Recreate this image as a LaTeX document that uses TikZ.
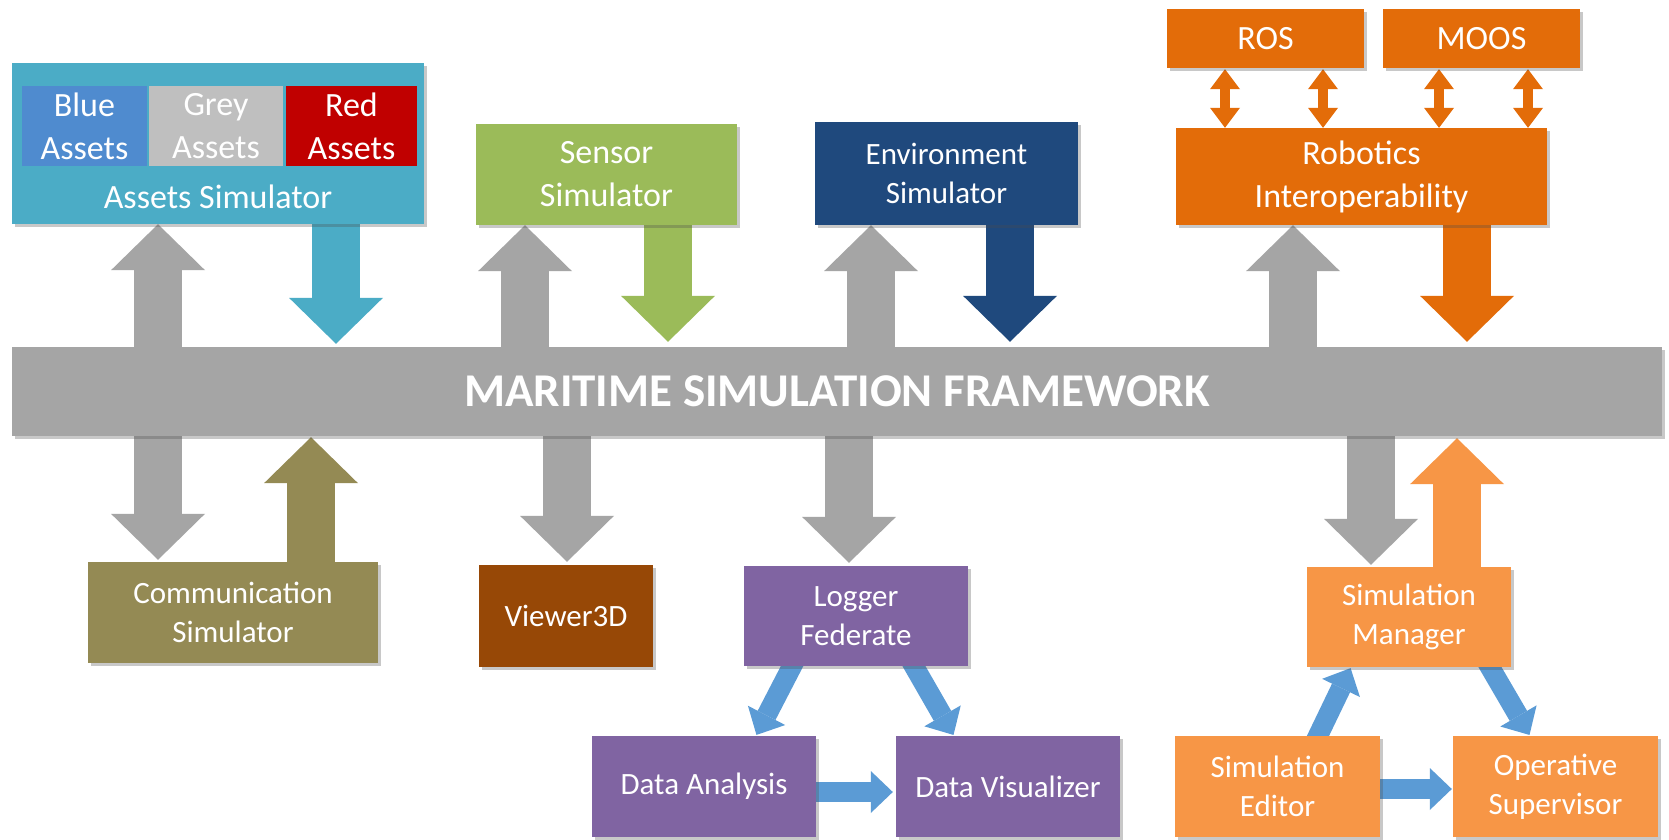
\documentclass[tikz,border=0pt]{standalone}
\usepackage{fontspec}
\setmainfont{Carlito}
\usetikzlibrary{arrows.meta,shadows}

\definecolor{assetsc}{HTML}{4BACC6}
\definecolor{bluec}{HTML}{4F8BCF}
\definecolor{greyc}{HTML}{BFBFBF}
\definecolor{redc}{HTML}{C00000}
\definecolor{sensorc}{HTML}{9BBB59}
\definecolor{envc}{HTML}{1F497D}
\definecolor{robc}{HTML}{E36C09}
\definecolor{busc}{HTML}{A5A5A5}
\definecolor{commc}{HTML}{948A54}
\definecolor{viewc}{HTML}{974806}
\definecolor{purc}{HTML}{8064A2}
\definecolor{simc}{HTML}{F79646}
\definecolor{flowc}{HTML}{5B9BD5}

\pgfdeclarelayer{bg}
\pgfsetlayers{bg,main}

\tikzset{
  box/.style={rectangle, inner sep=0pt, text=white, align=center,
    drop shadow={shadow xshift=3pt, shadow yshift=-3pt, opacity=0.3, fill=black!70}},
  subbox/.style={rectangle, inner sep=0pt, text=white, align=center},
  bigtext/.style={font=\fontsize{34}{43}\selectfont},
  smalltext/.style={font=\fontsize{31}{39}\selectfont},
  fatarrow/.style={line width=48pt, -{Triangle[width=94pt,length=46pt,line width=0pt]}},
  flowarrow/.style={line width=20pt, draw=flowc, -{Triangle[width=42pt,length=22pt,line width=0pt]}},
  linkarrow/.style={line width=10pt, draw=robc,
    {Triangle[width=30pt,length=20pt,line width=0pt]}-{Triangle[width=30pt,length=20pt,line width=0pt]}},
}

\begin{document}
\begin{tikzpicture}[x=1pt,y=-1pt]
\useasboundingbox (0,0) rectangle (1669,839);

% ---- top row ----
\node[box, fill=assetsc, minimum width=412pt, minimum height=161pt] (assets) at (218,143.5) {};
\node[subbox, bigtext, fill=bluec, minimum width=125pt, minimum height=80pt] (blue) at (84.5,126) {Blue\\Assets};
\node[subbox, bigtext, fill=greyc, minimum width=134pt, minimum height=80pt] (grey) at (216,126) {Grey\\Assets};
\node[subbox, bigtext, fill=redc, minimum width=131pt, minimum height=80pt] (red) at (351.5,126) {Red\\Assets};
\node[bigtext, text=white, inner sep=0pt] (assetslbl) at (218,197) {Assets Simulator};

\node[box, bigtext, fill=sensorc, minimum width=261pt, minimum height=101pt] (sensor) at (606.5,174.5) {Sensor\\Simulator};
\node[box, smalltext, fill=envc, minimum width=263pt, minimum height=103pt] (env) at (946.5,173.5) {Environment\\Simulator};

\node[box, bigtext, fill=robc, minimum width=197pt, minimum height=59pt] (ros) at (1265.5,38.5) {ROS};
\node[box, bigtext, fill=robc, minimum width=197pt, minimum height=59pt] (moos) at (1481.5,38.5) {MOOS};
\node[box, bigtext, fill=robc, minimum width=371pt, minimum height=97pt] (robotics) at (1361.5,176.5) {Robotics\\Interoperability};

% ---- framework bus ----
\node[box, fill=busc, minimum width=1650pt, minimum height=89pt,
      font=\bfseries\fontsize{47}{52}\selectfont] (bus) at (837,391.5) {MARITIME SIMULATION FRAMEWORK};

% ---- bottom row ----
\node[box, smalltext, fill=commc, minimum width=290pt, minimum height=101pt] (comm) at (233,612.5) {Communication\\Simulator};
\node[box, smalltext, fill=viewc, minimum width=174pt, minimum height=102pt] (viewer) at (566,616) {Viewer3D};
\node[box, smalltext, fill=purc, minimum width=224pt, minimum height=100pt] (logger) at (856,616) {Logger\\Federate};
\node[box, smalltext, fill=purc, minimum width=224pt, minimum height=101pt] (analysis) at (704,786.5) {Data Analysis};
\node[box, smalltext, fill=purc, minimum width=224pt, minimum height=101pt] (visual) at (1008,786.5) {Data Visualizer};

\node[box, smalltext, fill=simc, minimum width=204pt, minimum height=100pt] (manager) at (1409,617) {Simulation\\Manager};
\node[box, smalltext, fill=simc, minimum width=205pt, minimum height=101pt] (editor) at (1277.5,786.5) {Simulation\\Editor};
\node[box, smalltext, fill=simc, minimum width=205pt, minimum height=101pt] (supervisor) at (1555.5,786.5) {Operative\\Supervisor};

\begin{pgfonlayer}{bg}
\fill[white] (0,0) rectangle (1669,839);

% federates publishing to the framework
\draw[fatarrow, busc, shorten <=-6pt] (158,0 |- bus.north) -- (158,0 |- assets.south);
\draw[fatarrow, busc, shorten <=-6pt] (525,0 |- bus.north) -- (525,0 |- sensor.south);
\draw[fatarrow, busc, shorten <=-6pt] (871,0 |- bus.north) -- (871,0 |- env.south);
\draw[fatarrow, busc, shorten <=-6pt] (1293,0 |- bus.north) -- (1293,0 |- robotics.south);

\draw[fatarrow, assetsc, shorten <=-4pt, shorten >=3pt] (336,0 |- assets.south) -- (336,0 |- bus.north);
\draw[fatarrow, sensorc, shorten <=-4pt, shorten >=5pt] (668,0 |- sensor.south) -- (668,0 |- bus.north);
\draw[fatarrow, envc, shorten <=-4pt, shorten >=5pt] (1010,0 |- env.south) -- (1010,0 |- bus.north);
\draw[fatarrow, robc, shorten <=-4pt, shorten >=5pt] (1467,0 |- robotics.south) -- (1467,0 |- bus.north);

% robotics middleware links
\draw[linkarrow, shorten <=1pt, shorten >=0pt] (1225,0 |- ros.south) -- (1225,0 |- robotics.north);
\draw[linkarrow, shorten <=1pt, shorten >=0pt] (1323,0 |- ros.south) -- (1323,0 |- robotics.north);
\draw[linkarrow, shorten <=1pt, shorten >=0pt] (1439,0 |- moos.south) -- (1439,0 |- robotics.north);
\draw[linkarrow, shorten <=1pt, shorten >=0pt] (1528,0 |- moos.south) -- (1528,0 |- robotics.north);

% framework to lower federates
\draw[fatarrow, busc, shorten <=-6pt, shorten >=2pt] (158,0 |- bus.south) -- (158,0 |- comm.north);
\draw[fatarrow, commc, shorten <=-4pt, shorten >=1pt] (311,0 |- comm.north) -- (311,0 |- bus.south);
\draw[fatarrow, busc, shorten <=-6pt, shorten >=3pt] (567,0 |- bus.south) -- (567,0 |- viewer.north);
\draw[fatarrow, busc, shorten <=-6pt, shorten >=3pt] (849,0 |- bus.south) -- (849,0 |- logger.north);
\draw[fatarrow, busc, shorten <=-6pt, shorten >=2pt] (1371,0 |- bus.south) -- (1371,0 |- manager.north);
\draw[fatarrow, simc, shorten <=-4pt, shorten >=2pt] (1457,0 |- manager.north) -- (1457,0 |- bus.south);

% logging and simulation management flows
\draw[flowarrow, shorten <=-8pt, shorten >=1pt] (792,0 |- logger.south) -- (756,0 |- analysis.north);
\draw[flowarrow, shorten <=-8pt, shorten >=1pt] (914,0 |- logger.south) -- (954,0 |- visual.north);
\draw[flowarrow, shorten <=-4pt, shorten >=3pt] (analysis.east |- 0,792) -- (visual.west |- 0,792);
\draw[flowarrow, shorten <=-8pt, shorten >=1pt] (1318,0 |- editor.north) -- (1351,0 |- manager.south);
\draw[flowarrow, shorten <=-8pt, shorten >=1pt] (1490,0 |- manager.south) -- (1530,0 |- supervisor.north);
\draw[flowarrow, shorten <=-4pt, shorten >=1pt] (editor.east |- 0,789) -- (supervisor.west |- 0,789);
\end{pgfonlayer}
\end{tikzpicture}
\end{document}
